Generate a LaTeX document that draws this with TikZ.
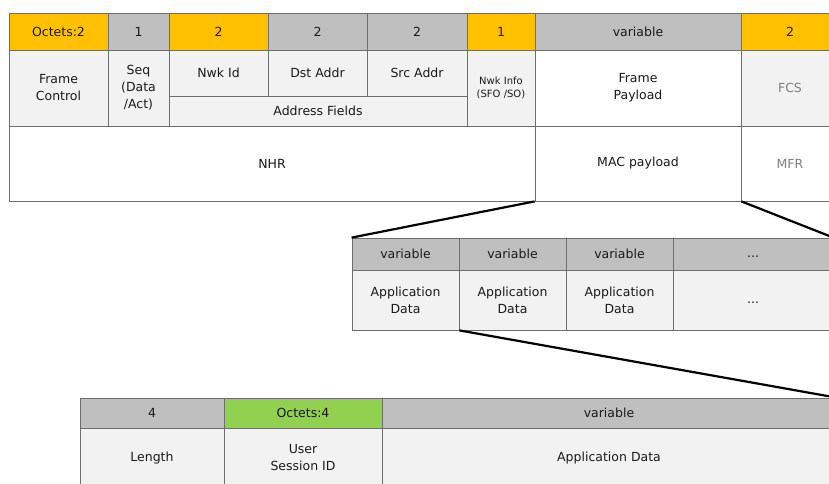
\documentclass[tikz,border=0pt]{standalone}
\usepackage{fontspec}
\setmainfont{DejaVu Sans}
\usepackage{tikz}
\usetikzlibrary{calc}
\usetikzlibrary{positioning}
\definecolor{hdrgold}{HTML}{FFC000}
\definecolor{hdrgray}{HTML}{BFBFBF}
\definecolor{hdrgreen}{HTML}{92D050}
\definecolor{celllight}{HTML}{F2F2F2}
\definecolor{edgegray}{HTML}{6E6E6E}
\definecolor{txtdark}{HTML}{1A1A1A}

\begin{document}
\begin{tikzpicture}[
			x=1pt, y=-1pt,
			every node/.style={
					draw=edgegray,
					line width=0.8pt,
					inner sep=0pt,
					align=center,
					text=txtdark,
					font=\fontsize{12.5}{17}\selectfont
				},
			gold/.style={fill=hdrgold},
			grayhdr/.style={fill=hdrgray},
			green/.style={fill=hdrgreen},
			light/.style={fill=celllight},
			plain/.style={fill=white},
			faded/.style={text=gray},
			link/.style={line width=2.2pt, black}
		]
		\useasboundingbox (0, 0) rectangle (829, 483);
		\clip (0, 0) rectangle (829, 483);
		\fill[white] (0, 0) rectangle (829, 483);

		% top frame: header row
		\node[gold, minimum width=99pt, minimum height=37pt] (h1) at (58.5, 31.5) {Octets:2};
		\node[grayhdr, minimum width=61pt, minimum height=37pt] (h2) at (138.5, 31.5) {1};
		\node[gold, minimum width=99pt, minimum height=37pt] (h3) at (218.5, 31.5) {2};
		\node[grayhdr, minimum width=99pt, minimum height=37pt] (h4) at (317.5, 31.5) {2};
		\node[grayhdr, minimum width=100pt, minimum height=37pt] (h5) at (417, 31.5) {2};
		\node[gold, minimum width=68pt, minimum height=37pt] (h6) at (501, 31.5) {1};
		\node[grayhdr, minimum width=206pt, minimum height=37pt] (h7) at (638, 31.5) {variable};
		\node[gold, minimum width=98pt, minimum height=37pt] (h8) at (790, 31.5) {2};

		% top frame: fields
		\node[light, minimum width=99pt, minimum height=76pt] (fctl) at (58.5, 88) {Frame\\Control};
		\node[light, minimum width=61pt, minimum height=76pt] (seq) at (138.5, 88) {Seq\\(Data\\/Act)};
		\node[light, minimum width=99pt, minimum height=46pt] (nwkid) at (218.5, 73) {Nwk Id};
		\node[light, minimum width=99pt, minimum height=46pt] (dst) at (317.5, 73) {Dst Addr};
		\node[light, minimum width=100pt, minimum height=46pt] (src) at (417, 73) {Src Addr};
		\node[light, minimum width=298pt, minimum height=30pt] (addr) at (318, 111) {Address Fields};
		\node[light, minimum width=68pt, minimum height=76pt,
			font=\fontsize{10}{13}\selectfont] (info) at (501, 88) {Nwk Info\\(SFO /SO)};
		\node[plain, minimum width=206pt, minimum height=76pt] (fpay) at (638, 88) {Frame\\Payload};
		\node[light, faded, minimum width=98pt, minimum height=76pt] (fcs) at (790, 88) {FCS};

		% top frame: layers
		\node[plain, minimum width=526pt, minimum height=75pt] (nhr) at (272, 163.5) {NHR};
		\node[plain, minimum width=206pt, minimum height=75pt] (mac) at (638, 163.5) {MAC payload};
		\node[plain, faded, minimum width=98pt, minimum height=75pt] (mfr) at (790, 163.5) {MFR};

		% payload split
		\node[grayhdr, minimum width=107pt, minimum height=32pt] (m1) at (405.5, 254) {variable};
		\node[grayhdr, minimum width=107pt, minimum height=32pt] (m2) at (512.5, 254) {variable};
		\node[grayhdr, minimum width=107pt, minimum height=32pt] (m3) at (619.5, 254) {variable};
		\node[grayhdr, minimum width=160pt, minimum height=32pt] (m4) at (753, 254) {\strut...};
		\node[light, minimum width=107pt, minimum height=60pt] (app1) at (405.5, 300) {Application\\Data};
		\node[light, minimum width=107pt, minimum height=60pt] (app2) at (512.5, 300) {Application\\Data};
		\node[light, minimum width=107pt, minimum height=60pt] (app3) at (619.5, 300) {Application\\Data};
		\node[light, minimum width=160pt, minimum height=60pt] (app4) at (753, 300) {\strut...};

		% application data split
		\node[grayhdr, minimum width=144pt, minimum height=30pt] (b1) at (152, 413) {4};
		\node[green, minimum width=158pt, minimum height=30pt] (b2) at (303, 413) {Octets:4};
		\node[grayhdr, minimum width=454pt, minimum height=30pt] (b3) at (609, 413) {variable};
		\node[light, minimum width=144pt, minimum height=60pt] (len) at (152, 458) {Length};
		\node[light, minimum width=158pt, minimum height=60pt] (usid) at (303, 458) {User\\Session ID};
		\node[light, minimum width=454pt, minimum height=60pt] (appdata) at (609, 458) {Application Data};

		% zoom lines
		\draw[link] (mac.south west) -- (m1.north west);
		\draw[link] (mac.south east) -- (m4.north east);
		\draw[link] (app1.south east) -- (b3.north east);
	\end{tikzpicture}
\end{document}
